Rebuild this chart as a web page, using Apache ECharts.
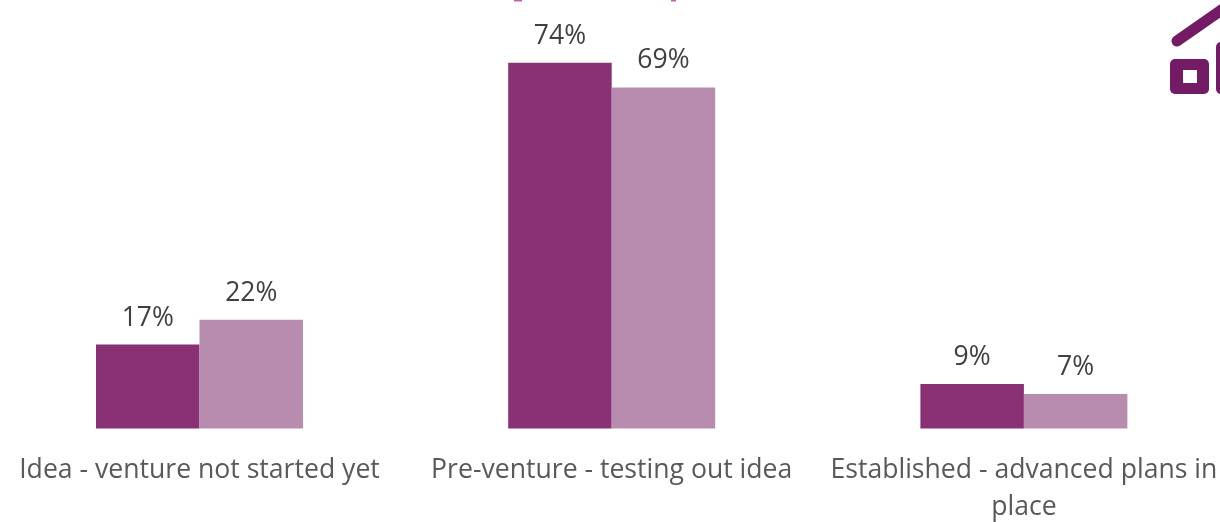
<!DOCTYPE html>
<html>
<head>
<meta charset="utf-8">
<style>
html,body{margin:0;padding:0;background:#fff;}
#chart{width:1220px;height:522px;}
</style>
<script src="https://cdn.jsdelivr.net/npm/echarts@6/dist/echarts.min.js"></script>
</head>
<body>
<div id="chart"></div>
<script>
var categories = ['Idea - venture not started yet', 'Pre-venture - testing out idea', 'Established - advanced plans in\nplace'];
var seriesA = [17, 74, 9];
var seriesB = [22, 69, 7];

var myChart = echarts.init(document.getElementById('chart'));
var font = '"Open Sans", sans-serif';
var barLabel = {
    show: true,
    position: 'top',
    distance: 13,
    formatter: '{c}%',
    fontFamily: font,
    fontSize: 26.5,
    color: '#404040'
};
var option = {
    animation: false,
    grid: {left: -6.6, right: -10, top: 33, bottom: 93.5, outerBoundsMode: 'none'},
    xAxis: {
        type: 'category',
        data: categories,
        axisLine: {show: false},
        axisTick: {show: false},
        axisLabel: {
            interval: 0,
            margin: 23,
            lineHeight: 37,
            fontFamily: font,
            fontSize: 26.6,
            color: '#595959'
        }
    },
    yAxis: {type: 'value', min: 0, max: 80, show: false, splitLine: {show: false}},
    series: [
        {type: 'bar', data: seriesA, barWidth: 103.5, barGap: '0%', itemStyle: {color: '#8a3074'}, label: barLabel},
        {type: 'bar', data: seriesB, barWidth: 103.5, itemStyle: {color: '#b88cae'}, label: barLabel}
    ],
    // house icon cut off by the right edge, and the tails of the clipped title
    graphic: [
        {type: 'line', shape: {x1: 1177, y1: 41, x2: 1235, y2: 0.5}, style: {stroke: '#741b66', lineWidth: 11, lineCap: 'round'}},
        {type: 'rect', shape: {x: 1170, y: 59, width: 39, height: 35, r: 5}, style: {fill: '#741b66'}},
        {type: 'rect', shape: {x: 1183, y: 70, width: 14, height: 13}, style: {fill: '#fff'}},
        {type: 'rect', shape: {x: 1216, y: 42, width: 20, height: 52, r: 5}, style: {fill: '#741b66'}},
        {type: 'rect', shape: {x: 514, y: 0, width: 8, height: 1.5}, style: {fill: '#c060b0'}},
        {type: 'rect', shape: {x: 671, y: 0, width: 5, height: 1.5}, style: {fill: '#c060b0'}}
    ]
};
myChart.setOption(option);
</script>
</body>
</html>
